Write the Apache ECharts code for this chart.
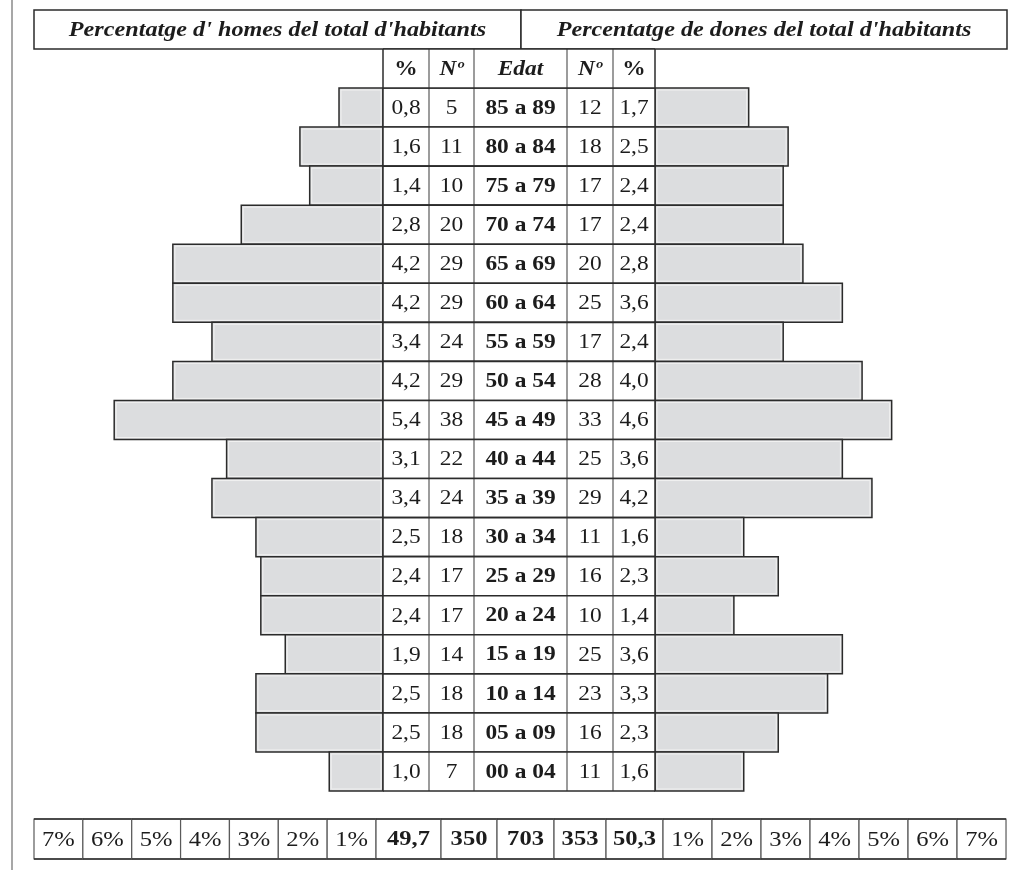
<!DOCTYPE html>
<html>
<head>
<meta charset="utf-8">
<title>Piràmide de població</title>
<script src="https://cdn.jsdelivr.net/npm/echarts@6/dist/echarts.min.js"></script>
<style>
  html, body { margin: 0; padding: 0; background: #ffffff; }
  #chart { width: 1021px; height: 870px; }
</style>
</head>
<body>
<div id="chart"></div>
<script>
// Age groups, oldest at the top
const ageGroups = ['85 a 89', '80 a 84', '75 a 79', '70 a 74', '65 a 69', '60 a 64',
  '55 a 59', '50 a 54', '45 a 49', '40 a 44', '35 a 39', '30 a 34',
  '25 a 29', '20 a 24', '15 a 19', '10 a 14', '05 a 09', '00 a 04'];

// Men: share of all inhabitants (%) and head count
const malePct = [0.8, 1.6, 1.4, 2.8, 4.2, 4.2, 3.4, 4.2, 5.4, 3.1, 3.4, 2.5, 2.4, 2.4, 1.9, 2.5, 2.5, 1.0];
const maleCount = [5, 11, 10, 20, 29, 29, 24, 29, 38, 22, 24, 18, 17, 17, 14, 18, 18, 7];

// Women: head count and share of all inhabitants (%)
const femaleCount = [12, 18, 17, 17, 20, 25, 17, 28, 33, 25, 29, 11, 16, 10, 25, 23, 16, 11];
const femalePct = [1.7, 2.5, 2.4, 2.4, 2.8, 3.6, 2.4, 4.0, 4.6, 3.6, 4.2, 1.6, 2.3, 1.4, 3.6, 3.3, 2.3, 1.6];

// Column headings and scale labels
const headerLabels = ['%', 'Nº', 'Edat', 'Nº', '%'];
const leftScaleLabels = ['7%', '6%', '5%', '4%', '3%', '2%', '1%'];
const rightScaleLabels = ['1%', '2%', '3%', '4%', '5%', '6%', '7%'];
const titleMen = "Percentatge d' homes del total d'habitants";
const titleWomen = "Percentatge de dones del total d'habitants";

// ---- styling ----
const INK = '#1c1c1c';
const DARK = '#2b2b2b';
const MID = '#5a5a5a';
const BAR_FILL = '#dcdddf';
const SERIF = '"Liberation Serif", "Times New Roman", serif';
const STRETCH = 1.17;   // the lettering is set slightly wide

const fmt = v => v.toFixed(1).replace('.', ',');
const sum = a => a.reduce((s, v) => s + v, 0);

// Totals printed in the bottom strip
const totals = [
  fmt(sum(malePct)),
  String(sum(maleCount)),
  String(sum(maleCount) + sum(femaleCount)),
  String(sum(femaleCount)),
  fmt(sum(femalePct))
];

// Column widths of the central table (px)
const tableCols = [46, 45, 93, 46, 42];
const tableEdges = tableCols.reduce((e, w) => (e.push(e[e.length - 1] + w), e), [0]);
const TABLE_W = tableEdges[tableEdges.length - 1];

// Bottom strip: scale cells + totals cells
const stripWidths = [].concat(
  leftScaleLabels.map(() => 48.86),
  [65, 56, 57, 52, 57],
  rightScaleLabels.map(() => 49)
);
const stripTexts = [].concat(leftScaleLabels, totals, rightScaleLabels);
const stripBold = [].concat(leftScaleLabels.map(() => false), totals.map(() => true), rightScaleLabels.map(() => false));
const stripCells = [];
{
  let x = 0;
  stripWidths.forEach((w, i) => { stripCells.push({ x0: x, x1: x + w, text: stripTexts[i], bold: stripBold[i] }); x += w; });
}
const STRIP_W = stripCells[stripCells.length - 1].x1;

function textEl(text, cx, cy, size, weight, style) {
  return {
    type: 'text', x: cx, y: cy, scaleX: STRETCH,
    style: {
      text: text, x: 0, y: 0, align: 'center', verticalAlign: 'middle',
      fill: INK, fontFamily: SERIF, fontSize: size,
      fontWeight: weight || 'normal', fontStyle: style || 'normal'
    }
  };
}

function barGroup(xa, xb, yTop, h) {
  const x = Math.min(xa, xb), w = Math.abs(xb - xa);
  return {
    type: 'group',
    children: [
      { type: 'rect', shape: { x: x, y: yTop, width: w, height: h },
        style: { fill: BAR_FILL, stroke: DARK, lineWidth: 1.5 } },
      { type: 'rect', shape: { x: x + 2, y: yTop + 2, width: Math.max(0, w - 4), height: h - 4 },
        style: { fill: 'none', stroke: '#f1f1f1', lineWidth: 1 } }
    ]
  };
}

// Row of table cells: vertical separators in mid grey, horizontal rules dark
function cellRow(x0, yTop, h, texts, fonts) {
  const children = [
    { type: 'rect', shape: { x: x0, y: yTop, width: TABLE_W, height: h }, style: { fill: '#ffffff' } }
  ];
  for (let c = 1; c < tableEdges.length - 1; c++) {
    const x = x0 + tableEdges[c];
    children.push({ type: 'line', shape: { x1: x, y1: yTop, x2: x, y2: yTop + h }, style: { stroke: MID, lineWidth: 1.2 } });
  }
  [x0, x0 + TABLE_W].forEach(x => children.push({ type: 'line', shape: { x1: x, y1: yTop, x2: x, y2: yTop + h }, style: { stroke: DARK, lineWidth: 1.5 } }));
  [yTop, yTop + h].forEach(y => children.push({ type: 'line', shape: { x1: x0, y1: y, x2: x0 + TABLE_W, y2: y }, style: { stroke: DARK, lineWidth: 1.6 } }));
  texts.forEach((t, c) => {
    const cx = x0 + (tableEdges[c] + tableEdges[c + 1]) / 2;
    const f = fonts[c];
    children.push(textEl(t, cx, yTop + h / 2 + 1, f.size, f.weight, f.style));
  });
  return { type: 'group', children: children };
}

const TOP = 88, ROWS_H = 703;
const bodyFonts = [
  { size: 20 }, { size: 20 }, { size: 20, weight: 'bold' }, { size: 20 }, { size: 20 }
];
const headFonts = [
  { size: 20, weight: 'bold' }, { size: 20, weight: 'bold', style: 'italic' },
  { size: 20, weight: 'bold', style: 'italic' }, { size: 20, weight: 'bold', style: 'italic' },
  { size: 20, weight: 'bold' }
];

const hiddenCat = (data, grid) => ({ type: 'category', data: data, inverse: true, gridIndex: grid, show: false });

const option = {
  animation: false,
  backgroundColor: '#ffffff',
  grid: [
    { left: 36, top: TOP, width: 347, height: ROWS_H },     // men's bars
    { left: 383, top: TOP, width: TABLE_W, height: ROWS_H }, // table
    { left: 655, top: TOP, width: 355, height: ROWS_H },    // women's bars
    { left: 383, top: 49, width: TABLE_W, height: 39 },      // table heading
    { left: 34, top: 819, width: STRIP_W, height: 40 }      // scale / totals strip
  ],
  xAxis: [
    { type: 'value', gridIndex: 0, min: -0.1, max: 7, inverse: true, show: false },
    { type: 'value', gridIndex: 1, min: 0, max: TABLE_W, show: false },
    { type: 'value', gridIndex: 2, min: -0.2, max: 7, show: false },
    { type: 'value', gridIndex: 3, min: 0, max: TABLE_W, show: false },
    { type: 'value', gridIndex: 4, min: 0, max: STRIP_W, show: false }
  ],
  yAxis: [
    hiddenCat(ageGroups, 0),
    hiddenCat(ageGroups, 1),
    hiddenCat(ageGroups, 2),
    hiddenCat(['cap'], 3),
    hiddenCat(['peu'], 4)
  ],
  graphic: [
    { type: 'line', shape: { x1: 12, y1: 0, x2: 12, y2: 870 }, style: { stroke: '#8a8a8a', lineWidth: 1.5 } },
    { type: 'rect', shape: { x: 34, y: 10, width: 487, height: 39 }, style: { fill: '#fff', stroke: DARK, lineWidth: 1.5 } },
    { type: 'rect', shape: { x: 521, y: 10, width: 486, height: 39 }, style: { fill: '#fff', stroke: DARK, lineWidth: 1.5 } },
    { type: 'text', x: 277.5, y: 30, scaleX: 1.1,
      style: { text: titleMen, x: 0, y: 0, align: 'center', verticalAlign: 'middle', fill: INK,
        fontFamily: SERIF, fontSize: 22, fontWeight: 'bold', fontStyle: 'italic' } },
    { type: 'text', x: 764, y: 30, scaleX: 1.1,
      style: { text: titleWomen, x: 0, y: 0, align: 'center', verticalAlign: 'middle', fill: INK,
        fontFamily: SERIF, fontSize: 22, fontWeight: 'bold', fontStyle: 'italic' } }
  ],
  series: [
    {
      name: 'Homes', type: 'custom', xAxisIndex: 0, yAxisIndex: 0,
      data: malePct.map((v, i) => [v, i]), encode: { x: 0, y: 1 },
      renderItem: function (params, api) {
        const p = api.coord([api.value(0), api.value(1)]);
        const band = api.size([0, 1])[1];
        const cs = params.coordSys;
        return barGroup(p[0], cs.x + cs.width, p[1] - band / 2, band);
      }
    },
    {
      name: 'Dones', type: 'custom', xAxisIndex: 2, yAxisIndex: 2,
      data: femalePct.map((v, i) => [v, i]), encode: { x: 0, y: 1 },
      renderItem: function (params, api) {
        const p = api.coord([api.value(0), api.value(1)]);
        const band = api.size([0, 1])[1];
        const cs = params.coordSys;
        return barGroup(cs.x, p[0], p[1] - band / 2, band);
      }
    },
    {
      name: 'Taula', type: 'custom', xAxisIndex: 1, yAxisIndex: 1,
      data: ageGroups.map((g, i) => [0, i]), encode: { x: 0, y: 1 },
      renderItem: function (params, api) {
        const i = api.value(1);
        const p = api.coord([0, i]);
        const band = api.size([0, 1])[1];
        const texts = [fmt(malePct[i]), String(maleCount[i]), ageGroups[i], String(femaleCount[i]), fmt(femalePct[i])];
        return cellRow(p[0], p[1] - band / 2, band, texts, bodyFonts);
      }
    },
    {
      name: 'Capçalera', type: 'custom', xAxisIndex: 3, yAxisIndex: 3,
      data: [[0, 0]], encode: { x: 0, y: 1 },
      renderItem: function (params, api) {
        const p = api.coord([0, 0]);
        const band = api.size([0, 1])[1];
        return cellRow(p[0], p[1] - band / 2, band, headerLabels, headFonts);
      }
    },
    {
      name: 'Escala', type: 'custom', xAxisIndex: 4, yAxisIndex: 4,
      data: stripCells.map((c, i) => [c.x0, 0, i]), encode: { x: 0, y: 1 },
      renderItem: function (params, api) {
        const cell = stripCells[api.value(2)];
        const a = api.coord([cell.x0, 0]);
        const b = api.coord([cell.x1, 0]);
        const band = api.size([0, 1])[1];
        const yTop = a[1] - band / 2;
        return {
          type: 'group',
          children: [
            { type: 'rect', shape: { x: a[0], y: yTop, width: b[0] - a[0], height: band },
              style: { fill: '#ffffff', stroke: MID, lineWidth: 1.2 } },
            { type: 'line', shape: { x1: a[0], y1: yTop, x2: b[0], y2: yTop }, style: { stroke: DARK, lineWidth: 1.6 } },
            { type: 'line', shape: { x1: a[0], y1: yTop + band, x2: b[0], y2: yTop + band }, style: { stroke: DARK, lineWidth: 1.6 } },
            textEl(cell.text, (a[0] + b[0]) / 2, a[1] + 1, 21, cell.bold ? 'bold' : 'normal')
          ]
        };
      }
    }
  ]
};

const pyramid = echarts.init(document.getElementById('chart'));
pyramid.setOption(option);
</script>
</body>
</html>
